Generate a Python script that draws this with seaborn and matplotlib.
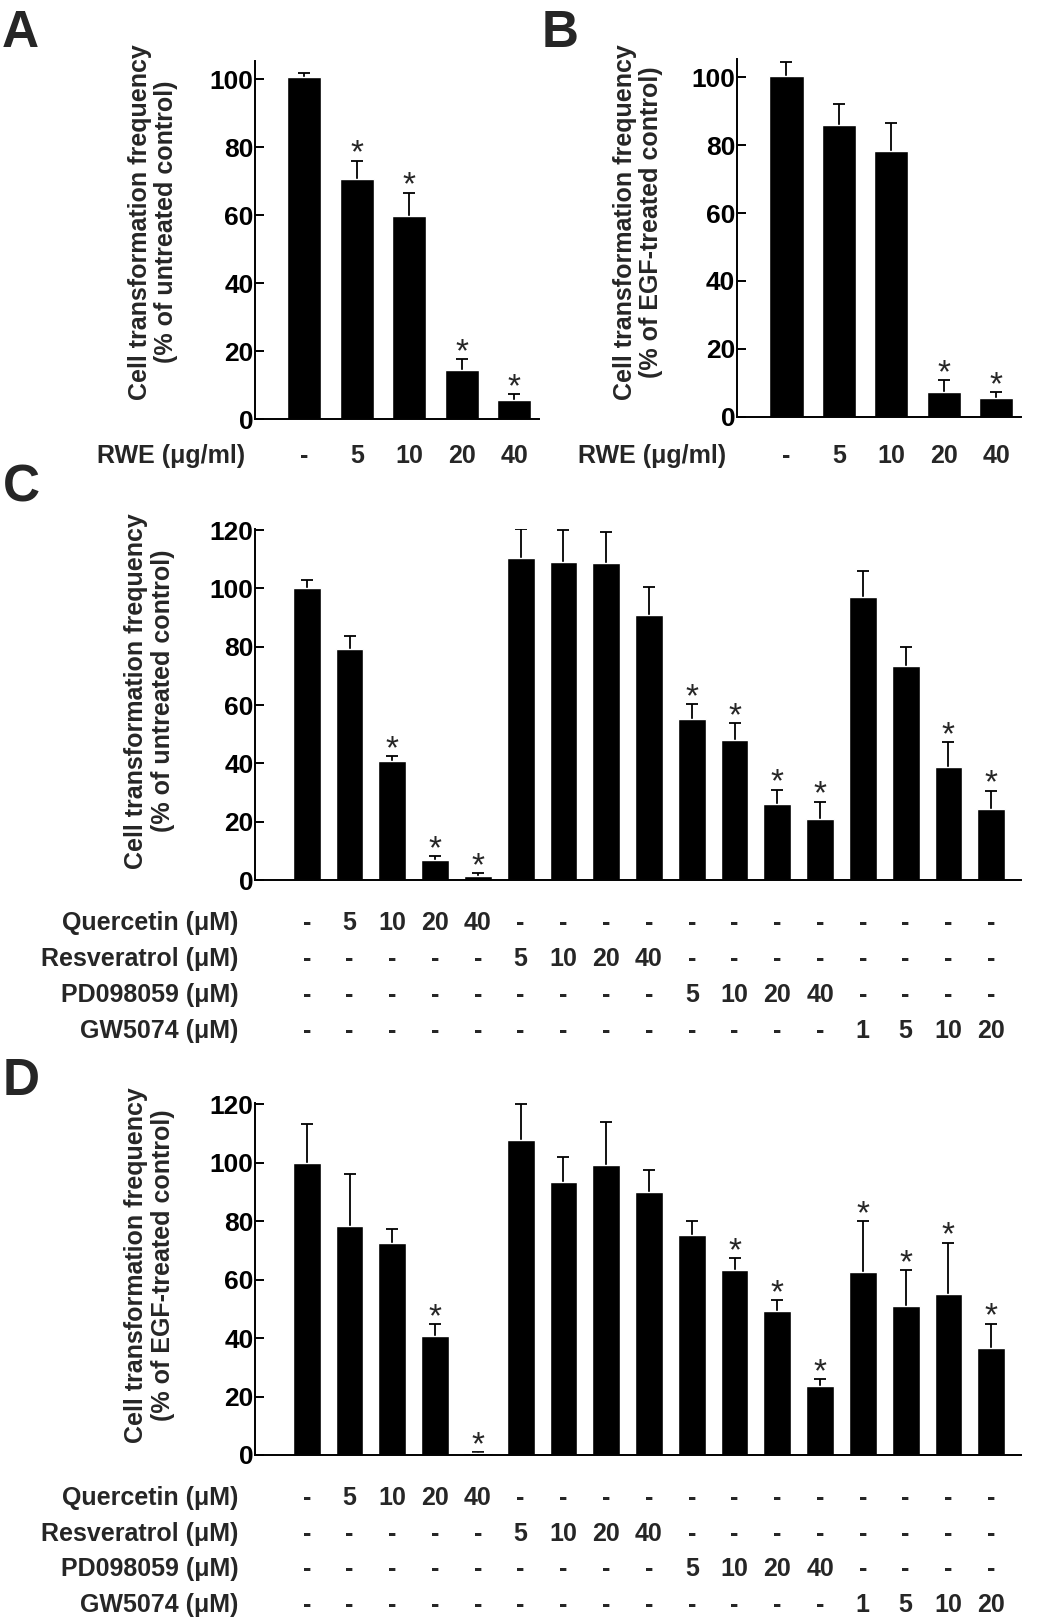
import numpy as np
import pandas as pd
import matplotlib
matplotlib.use('Agg')
import matplotlib.pyplot as plt
import seaborn as sns

# --- data ---
rwe_doses = ['-', '5', '10', '20', '40']

a_mean = [100.6, 70.5, 59.8, 14.4, 5.7]
a_err = [1.2, 5.5, 6.8, 3.2, 1.8]
a_sig = [0, 1, 1, 1, 1]

b_mean = [100.5, 85.8, 78.2, 7.2, 5.6]
b_err = [4.1, 6.3, 8.3, 3.5, 1.6]
b_sig = [0, 0, 0, 1, 1]

quercetin = ['-', '5', '10', '20', '40', '-', '-', '-', '-', '-', '-', '-', '-', '-', '-', '-', '-']
resveratrol = ['-', '-', '-', '-', '-', '5', '10', '20', '40', '-', '-', '-', '-', '-', '-', '-', '-']
pd098059 = ['-', '-', '-', '-', '-', '-', '-', '-', '-', '5', '10', '20', '40', '-', '-', '-', '-']
gw5074 = ['-', '-', '-', '-', '-', '-', '-', '-', '-', '-', '-', '-', '-', '1', '5', '10', '20']

c_mean = [100.2, 79.1, 40.9, 6.7, 1.4, 110.4, 109.2, 108.6, 90.8, 55.3, 48.1, 26.0, 20.9, 97.2, 73.4, 38.6, 24.5]
c_err = [2.6, 4.7, 1.5, 1.5, 1.0, 10.1, 11.0, 10.7, 9.6, 5.1, 5.8, 5.0, 6.0, 8.9, 6.5, 8.8, 6.2]
c_sig = [0, 0, 1, 1, 1, 0, 0, 0, 0, 1, 1, 1, 1, 0, 0, 1, 1]

d_mean = [100.1, 78.5, 72.5, 40.7, 0.8, 107.9, 93.6, 99.3, 90.1, 75.3, 63.2, 49.2, 23.5, 62.8, 51.0, 55.0, 36.6]
d_err = [13.1, 17.8, 4.7, 4.1, 0.3, 12.1, 8.5, 14.8, 7.5, 4.9, 4.2, 3.8, 2.4, 17.3, 12.2, 17.7, 8.4]
d_sig = [0, 0, 0, 1, 1, 0, 0, 0, 0, 0, 1, 1, 1, 1, 1, 1, 1]

lab_untreated = 'Cell transformation frequency\n(% of untreated control)'
lab_egf = 'Cell transformation frequency\n(% of EGF-treated control)'

sns.set_style('ticks')
plt.rcParams['font.family'] = ['Liberation Sans', 'DejaVu Sans']
plt.rcParams['font.weight'] = 'bold'
plt.rcParams['axes.labelweight'] = 'bold'

W, H = 1050, 1618
fig = plt.figure(figsize=(W / 100, H / 100), dpi=100)
FS = 18


def panel(rect, means, errs, sig, ymax, yticks, ylabel, labcoords, rows, row_y0, row_dy, row_dx, xlim):
    ax = fig.add_axes(rect)
    df = pd.DataFrame({'pos': [str(i) for i in range(len(means))], 'val': means})
    sns.barplot(data=df, x='pos', y='val', color='black', saturation=1, width=0.65,
                errorbar=None, ax=ax, zorder=2)
    x = np.arange(len(means))
    # symmetric bars drawn behind the columns, so only the upper half shows
    ax.errorbar(x, means, yerr=errs, fmt='none', ecolor='black',
                elinewidth=1.3, capsize=4, capthick=1.3, zorder=1)
    for xi, m, e, s in zip(x, means, errs, sig):
        if s:
            ax.annotate('*', xy=(xi, m + e), xytext=(0, -2), textcoords='offset pixels',
                        ha='center', va='baseline', fontsize=24, fontweight='normal')
    ax.set_xlim(*xlim)
    ax.set_ylim(0, ymax)
    ax.set_yticks(yticks)
    ax.set_xticks([])
    ax.set_xlabel('')
    ax.set_ylabel(ylabel, fontsize=FS, linespacing=1.12)
    ax.yaxis.set_label_coords(*labcoords)
    sns.despine(ax=ax)
    for sp in ['left', 'bottom']:
        ax.spines[sp].set_linewidth(1.4)
        ax.spines[sp].set_color('black')
    ax.tick_params(axis='y', direction='in', length=6.7, width=1.4, labelsize=19, pad=1,
                   color='black', labelcolor='black')
    # treatment rows under the axis
    for i, (name, vals) in enumerate(rows):
        yoff = -(row_y0 + i * row_dy)
        ax.annotate(name, xy=(0, 0), xycoords='axes fraction', xytext=(-row_dx, yoff),
                    textcoords='offset pixels', ha='right', va='center', fontsize=FS)
        for xi, v in zip(x, vals):
            ax.annotate(v, xy=(xi, 0), xycoords=('data', 'axes fraction'), xytext=(0, yoff),
                        textcoords='offset pixels', ha='center', va='center', fontsize=FS)
    return ax


def rect(left, top, right, bottom):
    return [left / W, 1 - bottom / H, (right - left) / W, (bottom - top) / H]


rows_cd = [('Quercetin (μM)', quercetin), ('Resveratrol (μM)', resveratrol),
           ('PD098059 (μM)', pd098059), ('GW5074 (μM)', gw5074)]

panel(rect(255, 61, 538.5, 419.3), a_mean, a_err, a_sig, 105.3, range(0, 101, 20), lab_untreated,
      (-0.27, 0.55), [('RWE (μg/ml)', rwe_doses)], 37, 0, 10, (-0.94, 4.46))
panel(rect(736.7, 59.3, 1020.7, 416.7), b_mean, b_err, b_sig, 105.3, range(0, 101, 20), lab_egf,
      (-0.258, 0.545), [('RWE (μg/ml)', rwe_doses)], 39.5, 0, 10.7, (-0.95, 4.47))
panel(rect(255, 529, 1020.7, 880), c_mean, c_err, c_sig, 120.4, range(0, 121, 20), lab_untreated,
      (-0.105, 0.539), rows_cd, 43.3, 35.8, 16.7, (-1.21, 16.69))
panel(rect(255, 1103.3, 1020.7, 1455), d_mean, d_err, d_sig, 120.4, range(0, 121, 20), lab_egf,
      (-0.105, 0.540), rows_cd, 43.3, 35.5, 16.7, (-1.21, 16.69))

for letter, lx, ly in [('A', 1.7, 46.7), ('B', 541.7, 46.7), ('C', 3, 501.7), ('D', 3, 1095)]:
    fig.text(lx / W, 1 - ly / H, letter, fontsize=37, ha='left', va='baseline')

fig.savefig('out.png', dpi=100, facecolor='white')
